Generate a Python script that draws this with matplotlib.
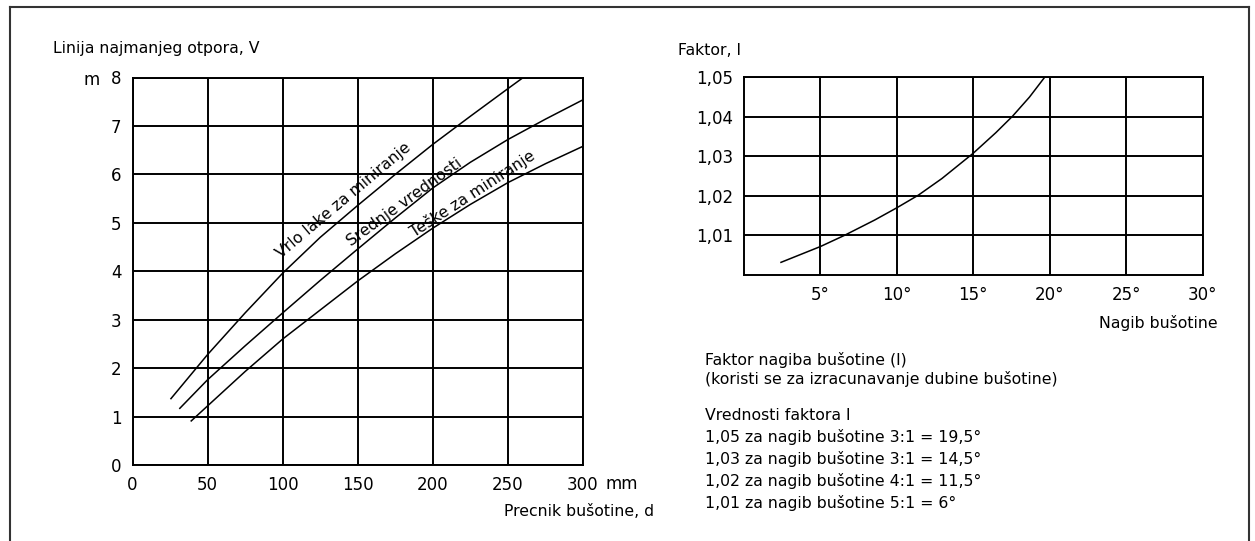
import matplotlib
matplotlib.use("Agg")
import matplotlib.pyplot as plt
from matplotlib.lines import Line2D

# ---------------- data ----------------
# Left chart: burden V (m) vs hole diameter d (mm)
d_vrlo = [25.6, 50, 75, 100, 125, 150, 175, 200, 225, 250, 260.2]
v_vrlo = [1.37, 2.28, 3.14, 3.96, 4.70, 5.36, 6.00, 6.62, 7.20, 7.77, 8.0]

d_sred = [31.5, 50, 75, 100, 125, 150, 175, 200, 225, 250, 275, 300]
v_sred = [1.17, 1.76, 2.46, 3.14, 3.81, 4.46, 5.10, 5.72, 6.25, 6.72, 7.14, 7.54]

d_teske = [39.1, 50, 75, 100, 125, 150, 175, 200, 225, 250, 275, 300]
v_teske = [0.91, 1.22, 1.93, 2.60, 3.20, 3.80, 4.36, 4.89, 5.38, 5.83, 6.22, 6.58]

curve_labels = ["Vrlo lake za miniranje", "Srednje vrednosti", "Teške za miniranje"]

left_xticks = [0, 50, 100, 150, 200, 250, 300]
left_yticks = [0, 1, 2, 3, 4, 5, 6, 7, 8]

# Right chart: factor I vs inclination (degrees)
nagib = [2.42, 5.0, 6.56, 8.55, 10.0, 11.41, 12.95, 15.0, 16.48, 17.58, 18.68, 19.67]
faktor = [1.0032, 1.0072, 1.0100, 1.0139, 1.0170, 1.0202, 1.0244, 1.0308,
          1.0360, 1.0402, 1.0450, 1.0500]

right_xticks = [5, 10, 15, 20, 25, 30]
right_xlabels = ["5°", "10°", "15°", "20°", "25°", "30°"]
right_yticks = [1.01, 1.02, 1.03, 1.04, 1.05]
right_ylabels = ["1,01", "1,02", "1,03", "1,04", "1,05"]

info_lines = [
    "Faktor nagiba bušotine (I)",
    "(koristi se za izracunavanje dubine bušotine)",
    "",
    "Vrednosti faktora I",
    "1,05 za nagib bušotine 3:1 = 19,5°",
    "1,03 za nagib bušotine 3:1 = 14,5°",
    "1,02 za nagib bušotine 4:1 = 11,5°",
    "1,01 za nagib bušotine 5:1 = 6°",
]

# ---------------- style ----------------
plt.rcParams["font.family"] = ["DejaVu Sans"]
W, H = 1255, 541
fig = plt.figure(figsize=(W / 100, H / 100), dpi=100)
fig.patch.set_facecolor("white")

def fx(px):
    return px / W

def fy(py):
    return 1 - py / H

GRID_LW = 1.4
CURVE_LW = 1.1
FS = 11.3
TFS = 12

# ---------------- left axes ----------------
axL = fig.add_axes([fx(132.5), fy(465), fx(583 - 132.5), (465 - 77.5) / H])
axL.set_xlim(0, 300)
axL.set_ylim(0, 8)
axL.set_xticks(left_xticks)
axL.set_yticks(left_yticks)
axL.set_xticklabels([str(t) for t in left_xticks])
axL.set_yticklabels([str(t) for t in left_yticks])
axL.grid(True, color="black", linewidth=GRID_LW)
axL.tick_params(length=0, labelsize=TFS, pad=8)
for s in axL.spines.values():
    s.set_linewidth(GRID_LW)
    s.set_color("black")

for xs, ys in [(d_vrlo, v_vrlo), (d_sred, v_sred), (d_teske, v_teske)]:
    axL.plot(xs, ys, color="black", linewidth=CURVE_LW, solid_joinstyle="round")

label_pos = [(140.6, 5.47, 40), (181.1, 5.43, 36), (226.8, 5.61, 33)]
for txt, (x, y, r) in zip(curve_labels, label_pos):
    axL.text(x, y, txt, rotation=r, ha="center", va="center",
             rotation_mode="anchor", fontsize=FS)

axL.annotate("mm", xy=(300, 0), xycoords="data", xytext=(16, -7.5),
             textcoords="offset points", ha="left", va="top", fontsize=TFS)
fig.text(fx(92), fy(80), "m", ha="center", va="center", fontsize=TFS)
fig.text(fx(53), fy(48), "Linija najmanjeg otpora, V", ha="left", va="center", fontsize=FS)
fig.text(fx(504), fy(511), "Precnik bušotine, d", ha="left", va="center", fontsize=FS)

# ---------------- right axes ----------------
axR = fig.add_axes([fx(744), fy(275), fx(1202.5 - 744), (275 - 77.3) / H])
axR.set_xlim(0, 30)
axR.set_ylim(1.0, 1.05)
axR.set_xticks(right_xticks)
axR.set_xticklabels(right_xlabels)
axR.set_yticks(right_yticks)
axR.set_yticklabels(right_ylabels)
axR.grid(True, color="black", linewidth=GRID_LW)
axR.tick_params(length=0, labelsize=TFS, pad=8)
for s in axR.spines.values():
    s.set_linewidth(GRID_LW)
    s.set_color("black")
axR.plot(nagib, faktor, color="black", linewidth=CURVE_LW, solid_joinstyle="round")

fig.text(fx(678), fy(50), "Faktor, I", ha="left", va="center", fontsize=FS)
fig.text(fx(1218), fy(323), "Nagib bušotine", ha="right", va="center", fontsize=FS)

ypos = [360, 379, None, 415, 437, 459, 481, 503]
for line, yp in zip(info_lines, ypos):
    if yp is None:
        continue
    fig.text(fx(705), fy(yp), line, ha="left", va="center", fontsize=FS)

# ---------------- outer frame ----------------
frame_kw = dict(color="#333333", linewidth=1.5, transform=fig.transFigure)
fig.add_artist(Line2D([fx(9.5), fx(1248.5)], [fy(6.5), fy(6.5)], **frame_kw))
fig.add_artist(Line2D([fx(9.5), fx(9.5)], [fy(6.5), 0], **frame_kw))
fig.add_artist(Line2D([fx(1248.5), fx(1248.5)], [fy(6.5), 0], **frame_kw))

fig.savefig("out.png", dpi=100)
